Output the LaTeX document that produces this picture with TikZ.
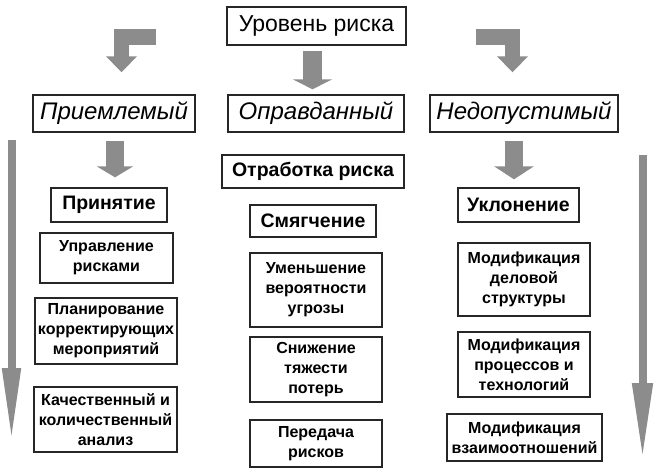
\documentclass[tikz,border=0pt]{standalone}
\usepackage{fontspec}
\setmainfont{Liberation Sans}
\usetikzlibrary{arrows.meta,shadows}

\definecolor{arrowgray}{RGB}{140,140,140}

\tikzset{
  box/.style={draw=black!85, line width=1.3pt, fill=white, inner sep=0pt, align=center,
    drop shadow={shadow xshift=1pt, shadow yshift=-1pt, fill=black!30},
    font=\bfseries\fontsize{16}{20}\selectfont},
  head/.style={box, font=\bfseries\fontsize{19.5}{21}\selectfont},
  level/.style={box, line width=1.4pt, font=\itshape\fontsize{24}{26}\selectfont},
  sz/.style 2 args={minimum width=#1pt, minimum height=#2pt},
  fatarrow/.style={draw=arrowgray, line width=#1pt, line join=miter},
}

\begin{document}
\begin{tikzpicture}[x=1pt, y=-1pt]
	\useasboundingbox (0,0) rectangle (663,475);
	
	\node [box, sz={179}{38}, line width=1.8pt, font=\fontsize{23}{25}\selectfont] (level) at (316.5,26) {Уровень риска};
	
	\node [level, sz={162}{37}] (accept) at (114,113.5) {Приемлемый};
	\node [level, sz={176}{37}] (justif) at (316,113.5) {Оправданный};
	\node [level, sz={188}{37}] (inadm)  at (524,113.5) {Недопустимый};
	
	% left column
	\node [head, sz={116}{34}] (adopt)  at (109,205)   {Принятие};
	\node [box,  sz={133}{50}] (manage) at (106.5,258) {Управление\\рисками};
	\node [box,  sz={142}{66}] (plan)   at (106,331)   {Планирование\\корректирующих\\мероприятий};
	\node [box,  sz={143}{65}] (anal)   at (105.5,419.5) {Качественный и\\количественный\\анализ};
	
	% middle column
	\node [head, sz={182}{33}] (work)     at (313,171.5) {Отработка риска};
	\node [head, sz={126}{32}] (soft)     at (313,221)   {Смягчение};
	\node [box,  sz={132}{74}] (reduce)   at (316,290)   {Уменьшение\\вероятности\\угрозы};
	\node [box,  sz={132}{65}] (lower)    at (316,369.5) {Снижение\\тяжести\\потерь};
	\node [box,  sz={132}{47}] (transfer) at (316,443.5) {Передача\\рисков};
	
	% right column
	\node [head, sz={121}{34}] (avoid)   at (518.5,205) {Уклонение};
	\node [box,  sz={132}{73}] (struct)  at (524,279.5) {Модификация\\деловой\\структуры};
	\node [box,  sz={132}{65}] (process) at (524,364.5) {Модификация\\процессов и\\технологий};
	\node [box,  sz={155}{47}] (relat)   at (524.5,437.5) {Модификация\\взаимоотношений};
	
	% block arrows
	\draw [fatarrow=19, -{Triangle[width=39pt,length=10pt]}, shorten <=5pt, shorten >=5pt]
		([xshift=-4pt]level.south) -- ([xshift=-4pt]level.south |- justif.north);
	\draw [fatarrow=15.5, -{Triangle[width=30pt,length=16pt]}]
		([xshift=-70pt, yshift=-11pt]level.west) -| ([xshift=7.5pt, yshift=22pt]accept.north);
	\draw [fatarrow=15.5, -{Triangle[width=30pt,length=16pt]}]
		([xshift=69pt, yshift=-11pt]level.east) -| ([xshift=-11.5pt, yshift=22pt]inadm.north);
	\draw [fatarrow=18, -{Triangle[width=36pt,length=11pt]}, shorten <=8pt, shorten >=10pt]
		([xshift=1pt]accept.south) -- ([xshift=1pt]accept.south |- adopt.north);
	\draw [fatarrow=18, -{Triangle[width=39pt,length=13pt]}, shorten <=8pt, shorten >=8pt]
		([xshift=-10pt]inadm.south) -- ([xshift=-10pt]inadm.south |- avoid.north);
	
	% long arrows at the sides
	\coordinate (ltop) at (11.5,140);
	\coordinate (lbot) at (11.5,443);
	\coordinate (rtop) at (642.5,155);
	\coordinate (rbot) at (642.5,460);
	\draw [fatarrow=8, -{Triangle[width=17pt,length=75pt]}] (ltop) -- (lbot);
	\draw [fatarrow=8, -{Triangle[width=19pt,length=77pt]}] (rtop) -- (rbot);
\end{tikzpicture}
\end{document}
